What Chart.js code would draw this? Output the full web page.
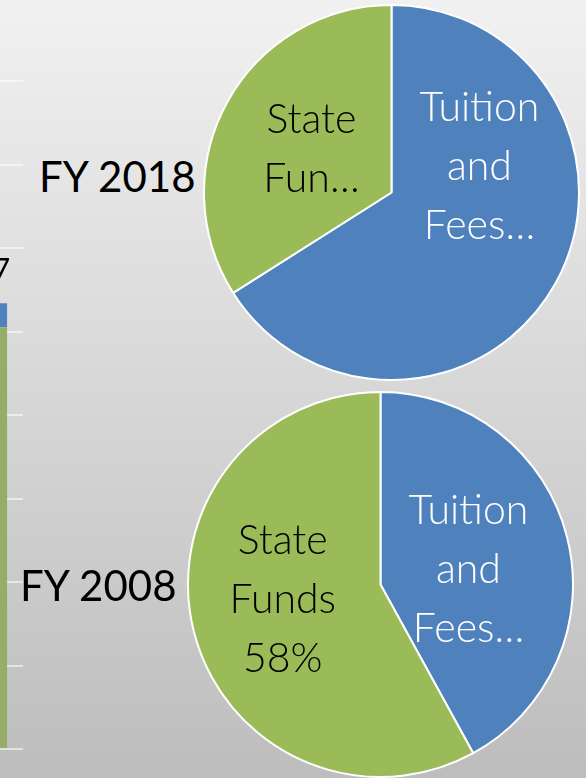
<!DOCTYPE html>
<html lang="en">
<head>
<meta charset="UTF-8">
<title>Funding FY 2008 vs FY 2018</title>
<script src="https://cdn.jsdelivr.net/npm/chart.js@4/dist/chart.umd.min.js"></script>
<style>
    html, body { margin: 0; padding: 0; }
    body {
        width: 586px; height: 778px; overflow: hidden; position: relative;
        background: linear-gradient(#f1f1f1, #bdbdbd);
        font-family: Lato, "Open Sans", sans-serif;
    }
    canvas { position: absolute; }
    #barChart { left: -83px; top: 51px; }
    #pie2018 { left: 203px; top: 4px; }
    #pie2008 { left: 187px; top: 391px; }
    .year { position: absolute; font-size: 42px; color: #000; line-height: 1; }
    #y2018 { left: 39px; top: 155px; }
    #y2008 { left: 20px; top: 564px; }
</style>
</head>
<body>

<canvas id="barChart" width="106" height="700"></canvas>
<div class="year" id="y2018">FY 2018</div>
<div class="year" id="y2008">FY 2008</div>
<canvas id="pie2018" width="377" height="377"></canvas>
<canvas id="pie2008" width="387" height="387"></canvas>

<script>
// data
var sources = ["Tuition and Fees", "State Funds"];
var colors = ["#4f81bd", "#9bbb59"];
var share2018 = [66, 34];
var share2008 = [42, 58];
var labels2018 = [["Tuition", "and", "Fees…"], ["State", "Fun…"]];
var labels2008 = [["Tuition", "and", "Fees…"], ["State", "Funds", "58%"]];

// the bar chart cut off at the left edge
var barYears = ["FY 2018"];
var barState = [5050];
var barTuition = [287];

Chart.defaults.font.family = "Lato, 'Open Sans', sans-serif";
Chart.defaults.devicePixelRatio = 1;

// draws multi-line labels inside pie slices, offsets are fractions of the radius
var sliceLabels = {
    id: 'sliceLabels',
    afterDatasetsDraw: function(chart, args, opts) {
        var ctx = chart.ctx;
        var meta = chart.getDatasetMeta(0);
        ctx.save();
        ctx.font = "300 " + opts.size + "px " + Chart.defaults.font.family;
        ctx.textAlign = "center";
        ctx.textBaseline = "middle";
        meta.data.forEach(function(arc, i) {
            var lines = opts.text[i];
            var cx = arc.x + opts.offsets[i][0] * arc.outerRadius;
            var cy = arc.y + opts.offsets[i][1] * arc.outerRadius;
            var y0 = cy - (lines.length - 1) * opts.lineHeight / 2;
            ctx.fillStyle = opts.colors[i];
            lines.forEach(function(line, j) {
                ctx.fillText(line, cx, y0 + j * opts.lineHeight);
            });
        });
        ctx.restore();
    }
};

function makePie(id, values, text, offsets) {
    return new Chart(document.getElementById(id), {
        type: 'pie',
        data: {
            labels: sources,
            datasets: [{
                data: values,
                backgroundColor: colors,
                borderColor: "#ffffff",
                borderWidth: 2
            }]
        },
        options: {
            responsive: false,
            animation: false,
            plugins: {
                legend: { display: false },
                tooltip: { enabled: false },
                sliceLabels: {
                    text: text,
                    offsets: offsets,
                    colors: ["#ffffff", "#000000"],
                    size: 41,
                    lineHeight: 59
                }
            }
        },
        plugins: [sliceLabels]
    });
}

makePie('pie2018', share2018, labels2018, [[0.469, -0.136], [-0.427, -0.232]]);
makePie('pie2008', share2008, labels2008, [[0.457, -0.075], [-0.508, 0.078]]);

// total above the stacked bar
var totalLabel = {
    id: 'totalLabel',
    afterDatasetsDraw: function(chart) {
        var ctx = chart.ctx;
        var top = chart.getDatasetMeta(1).data[0];
        var total = barState[0] + barTuition[0];
        ctx.save();
        ctx.font = "30px " + Chart.defaults.font.family;
        ctx.fillStyle = "#000";
        ctx.textAlign = "center";
        ctx.textBaseline = "middle";
        ctx.fillText(total.toLocaleString("en-US"), top.x + 2, top.y - 33);
        ctx.restore();
    }
};

new Chart(document.getElementById('barChart'), {
    type: 'bar',
    data: {
        labels: barYears,
        datasets: [
            { label: "State Funds", data: barState, backgroundColor: "#95ad68" },
            { label: "Tuition and Fees", data: barTuition, backgroundColor: "#4f81bd" }
        ]
    },
    options: {
        responsive: false,
        animation: false,
        layout: { padding: { top: 30, bottom: 2, left: 0, right: 0 } },
        datasets: { bar: { categoryPercentage: 1, barPercentage: 0.7 } },
        scales: {
            x: { stacked: true, display: false },
            y: {
                stacked: true,
                min: 0, max: 8000,
                ticks: { display: false, stepSize: 1000 },
                border: { display: false },
                grid: { color: "rgba(255,255,255,0.55)", lineWidth: 2, drawTicks: false },
                afterFit: function(scale) { scale.width = 0; }
            }
        },
        plugins: { legend: { display: false }, tooltip: { enabled: false } }
    },
    plugins: [totalLabel]
});
</script>
</body>
</html>
